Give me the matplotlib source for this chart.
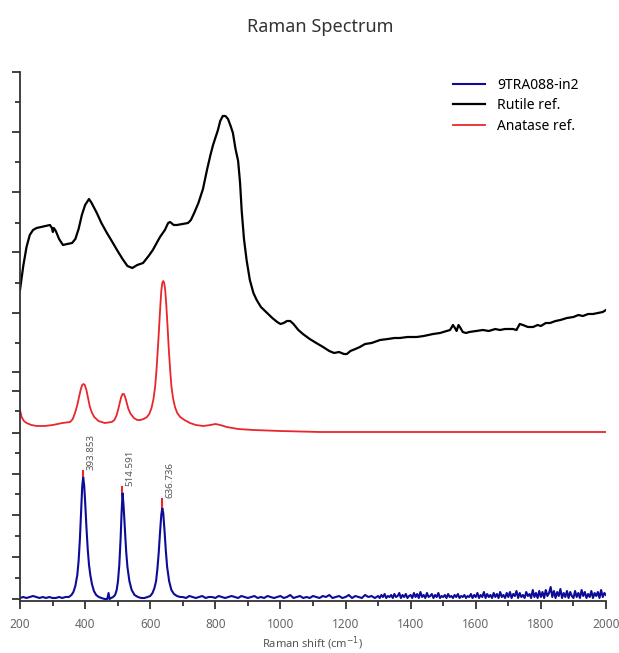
import numpy as np
import matplotlib
matplotlib.use("Agg")
import matplotlib.pyplot as plt

plt.rcParams['font.family'] = ['Noto Sans', 'DejaVu Sans']

# -------- DATA (offset intensities, arbitrary units) --------
# sample 9TRA088-in2 : peak region typed point by point
blue_x_low = [200, 210, 220, 230, 240, 250, 260, 270, 280, 290, 300, 310, 320, 330, 340,
              350, 358, 364, 370, 376, 380, 384, 388, 391, 394, 397, 400, 404, 408, 412,
              416, 421, 427, 434, 442, 450, 460, 468, 472, 475, 480, 486,
              492, 497, 501, 505, 509, 512, 515, 518, 522, 526, 530, 536, 543, 552, 562,
              572, 582, 592, 600, 607, 613, 618, 622, 626, 630, 634, 637, 640, 644, 648,
              652, 658, 665, 673, 682, 692]
blue_y_low = [3, 4, 3, 4, 5, 4, 3, 4, 3, 4, 3, 3, 4, 3, 4,
              4, 6, 9, 15, 26, 40, 62, 92, 114, 124, 116, 100, 74, 52, 36,
              26, 17, 10, 6, 4, 3, 2, 2, 8, 2, 3, 4,
              6, 11, 20, 36, 62, 88, 108, 96, 72, 50, 34, 20, 11, 6, 4,
              3, 3, 4, 5, 8, 13, 20, 32, 48, 68, 86, 93, 88, 70, 50,
              34, 20, 11, 7, 5, 4]
# noisy baseline 700-1290 (step 10) and 1300-2000 (step 5)
blue_y_mid = [4, 3, 5, 4, 3, 4, 5, 3, 4, 4, 3, 5, 4, 3, 4, 5, 4, 3, 5, 4,
              3, 4, 5, 3, 4, 3, 5, 4, 3, 4, 5, 3, 4, 6, 3, 4, 5, 3, 4, 3,
              5, 4, 3, 5, 4, 6, 3, 4, 5, 3, 4, 6, 3, 5, 4, 3, 6, 4, 5, 3]
blue_y_high = [5, 3, 6, 4, 7, 3, 5, 4, 6, 3, 7, 4, 5, 8, 3, 6, 4, 7, 3, 5,
               6, 3, 8, 4, 7, 3, 9, 4, 6, 3, 8, 4, 5, 7, 3, 6, 4, 8, 3, 5,
               4, 6, 3, 7, 4, 5, 3, 6, 4, 7, 3, 5, 4, 6, 3, 5, 4, 7, 3, 6,
               4, 8, 3, 6, 4, 9, 3, 7, 4, 6, 3, 8, 4, 7, 3, 9, 4, 6, 3, 8,
               4, 9, 3, 7, 5, 10, 3, 8, 4, 6, 3, 9, 5, 7, 3, 11, 4, 8, 3, 10,
               4, 9, 3, 11, 5, 8, 14, 4, 10, 3, 9, 5, 12, 3, 8, 4, 10, 3, 9, 5,
               3, 10, 4, 8, 3, 11, 5, 9, 3, 7, 4, 10, 3, 8, 5, 9, 3, 11, 4, 8, 6]

rutile_x = [200, 210, 220, 230, 240, 251, 265, 280, 292, 298, 301, 304, 310, 320, 332,
            345, 360, 370, 380, 390, 400, 412, 420, 436, 450, 467, 480, 498, 515, 530,
            545, 560, 578, 595, 608, 620, 630, 645, 655, 661, 672, 682, 700, 716, 725,
            735, 748, 762, 775, 785, 793, 800, 808, 815, 823, 831, 839, 847, 854, 862,
            870, 876, 881, 888, 896, 906, 917, 927, 940, 959, 975, 990, 1000, 1010,
            1020, 1030, 1040, 1055, 1069, 1090, 1110, 1131, 1150, 1165, 1180, 1195,
            1204, 1215, 1230, 1244, 1260, 1280, 1306, 1330, 1350, 1367, 1390, 1419,
            1440, 1469, 1490, 1510, 1521, 1530, 1536, 1541, 1547, 1553, 1560, 1570,
            1580, 1600, 1622, 1640, 1660, 1674, 1690, 1714, 1725, 1735, 1745, 1760,
            1776, 1790, 1800, 1815, 1828, 1845, 1860, 1880, 1900, 1915, 1929, 1945,
            1960, 1975, 1990, 2000]
rutile_y = [311, 335, 354, 366, 371, 373, 374, 375, 376, 373, 369, 373, 370, 362, 356,
            357, 358, 362, 372, 386, 396, 402, 398, 388, 378, 368, 361, 351, 342, 335,
            333, 336, 338, 345, 351, 358, 364, 371, 378, 379, 376, 376, 377, 378, 381,
            388, 398, 412, 432, 446, 456, 463, 471, 480, 485, 485, 482, 475, 468, 452,
            440, 418, 390, 362, 341, 321, 308, 301, 294, 288, 283, 279, 277, 278,
            280, 280, 277, 271, 267, 262, 258, 254, 250, 248, 249, 247,
            247, 250, 252, 254, 257, 258, 261, 262, 263, 263, 264, 264,
            265, 267, 268, 270, 271, 276, 273, 270, 276, 273, 269, 268,
            269, 270, 271, 270, 272, 271, 272, 272, 271, 277, 276, 274,
            274, 276, 275, 278, 278, 280, 281, 283, 284, 286, 285, 287,
            287, 288, 289, 291]

anatase_x = [200, 205, 212, 220, 235, 251, 275, 301, 330, 354, 362, 369, 376, 382, 387,
             391, 395, 399, 404, 409, 414, 420, 428, 441, 460, 482, 490, 497, 502, 507,
             511, 515, 519, 523, 528, 533, 540, 550, 560, 569, 580, 590, 597, 604, 610,
             615, 619, 623, 627, 631, 634, 637, 640, 643, 646, 649, 653, 657, 661, 665,
             670, 676, 683, 692, 705, 722, 740, 763, 785, 800, 815, 835, 870, 917, 1000,
             1121, 1500, 2000]
anatase_y = [191, 184, 180, 178, 176, 175, 175, 176, 178, 179, 182, 188, 196, 205, 212,
             216, 217, 216, 211, 203, 195, 189, 184, 180, 178, 179, 181, 186, 192, 199,
             204, 207, 207, 204, 198, 192, 187, 183, 181, 181, 182, 184, 187, 193, 202,
             214, 230, 250, 272, 295, 310, 318, 320, 318, 311, 298, 276, 252, 232, 215,
             203, 194, 188, 184, 181, 178, 176, 175, 176, 177, 176, 174, 172, 171, 170,
             169, 169, 169]

peak_pos = [393.853, 514.591, 636.736]
peak_top = [124, 108, 93]
peak_tip = [131, 115, 103]
peak_labels = ["393.853", "514.591", "636.736"]

series_labels = ["9TRA088-in2", "Rutile ref.", "Anatase ref."]
# ------------------------------------------------------------

blue_x = np.concatenate([blue_x_low, np.arange(700, 1300, 10), np.arange(1300, 2001, 5)])
blue_y = np.concatenate([blue_y_low, blue_y_mid, blue_y_high])

fig = plt.figure(figsize=(6.19, 6.53), dpi=100)
ax = fig.add_axes([20 / 619, 52 / 653, 586 / 619, 529 / 653])

blue = '#0c0c98'
red = '#e8262c'
ax.plot(blue_x, blue_y, color=blue, lw=1.5, label=series_labels[0])
ax.plot(rutile_x, rutile_y, color='black', lw=1.6, label=series_labels[1])
ax.plot(anatase_x, anatase_y, color=red, lw=1.3, label=series_labels[2])

ax.vlines(peak_pos, peak_top, peak_tip, color=red, lw=1.5)
for px, top, lab in zip(peak_pos, peak_tip, peak_labels):
    ax.text(px + 10, top, lab, rotation=90, ha='left', va='bottom',
            fontsize=7, color='#555555')

ax.set_xlim(200, 2000)
ax.set_ylim(0, 529)
ax.set_xticks(np.arange(200, 2001, 200))
ax.set_xticks(np.arange(300, 2000, 200), minor=True)
ax.set_yticks([529, 469, 409, 349, 288, 229, 210, 168, 127, 86, 44, 2])
ax.set_yticks([499, 439, 378, 318, 258, 190, 148, 107, 65, 23], minor=True)
ax.set_yticklabels([])
ax.tick_params(axis='both', which='major', direction='out', length=6, width=1.3, color='#333333')
ax.tick_params(axis='both', which='minor', direction='out', length=3.5, width=1.3, color='#333333')
ax.tick_params(axis='x', labelsize=8.5, labelcolor='#666666', pad=6)
for side in ['top', 'right']:
    ax.spines[side].set_visible(False)
for side in ['left', 'bottom']:
    ax.spines[side].set_linewidth(1.3)
    ax.spines[side].set_color('#333333')

ax.legend(loc='upper left', bbox_to_anchor=(447 / 619, 1 - 72 / 653),
          bbox_transform=fig.transFigure, frameon=False, fontsize=10,
          handlelength=2.3, handletextpad=0.9, labelspacing=0.4, borderaxespad=0)

fig.text(320 / 619, 1 - 27 / 653, "Raman Spectrum", ha='center', va='center',
         fontsize=13, color='#333333')
fig.text(313 / 619, 1 - 652 / 653, "Raman shift (cm$^{-1}$)", ha='center', va='bottom',
         fontsize=8, color='#555555')

fig.savefig("out.png", dpi=100)
